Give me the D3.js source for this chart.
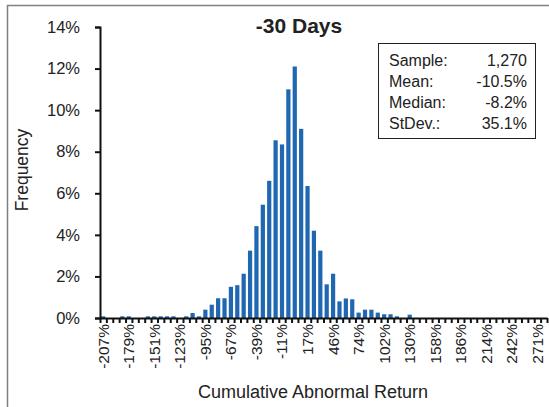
<!DOCTYPE html>
<html><head><meta charset="utf-8">
<script src="https://cdn.jsdelivr.net/npm/d3@7"></script>
<style>
html,body{margin:0;padding:0;background:#fff;}
text{font-family:"Liberation Sans",Arial,sans-serif;fill:#222;}
</style></head>
<body>
<svg id="c" width="549" height="407"></svg>
<script>
// ---- data ----
const title = "-30 Days";
const yTickValues = [0, 2, 4, 6, 8, 10, 12, 14];
const xTickLabels = ["-207%","-179%","-151%","-123%","-95%","-67%","-39%","-11%","17%","46%","74%","102%","130%","158%","186%","214%","242%","271%"];
const labelEvery = 4;
// frequency (%) per bin, 70 bins
const freq = [
  0.08,0,0,0.08,0.08,0,0,0.08,0.08,0.08,
  0.08,0.08,0,0.08,0.24,0.08,0.40,0.64,0.95,0.95,
  1.50,1.58,2.13,3.24,4.42,5.45,6.60,8.55,8.35,11.00,
  12.10,9.10,6.35,4.20,3.24,1.62,2.13,0.80,0.94,0.90,
  0.26,0.40,0.40,0.26,0.18,0.18,0.08,0,0.16,0,
  0,0,0,0,0,0,0,0,0,0,
  0,0,0,0,0,0,0,0,0,0
];
const statNames = ["Sample:","Mean:","Median:","StDev.:"];
const statValues = ["1,270","-10.5%","-8.2%","35.1%"];

// ---- layout ----
const svg = d3.select("#c");
const L = 100, R = 547, T = 27, B = 318;
const idx = d3.range(freq.length);

svg.append("rect").attr("x",7.5).attr("y",5.5).attr("width",600).attr("height",500)
  .attr("fill","none").attr("stroke","#808080").attr("stroke-width",1.5);

const x = d3.scaleBand().domain(idx).range([L, R]).paddingInner(0.34).paddingOuter(0.17);
const xEdge = d3.scaleLinear().domain([0, freq.length]).range([L, R]);
const y = d3.scaleLinear().domain([0, 14]).range([B, T]);

// bars
svg.append("g").selectAll("rect").data(freq).join("rect")
  .attr("x",(d,i)=>x(i)).attr("width",x.bandwidth())
  .attr("y",d=>y(d)).attr("height",d=>B-y(d))
  .attr("fill","#1f67b1");

// y axis
const yAx = svg.append("g").attr("transform",`translate(${L},0)`)
  .call(d3.axisLeft(y).tickValues(yTickValues).tickFormat(d=>d+"%").tickSize(5).tickPadding(15));
yAx.select(".domain").attr("stroke","#111").attr("stroke-width",2);
yAx.selectAll(".tick line").attr("stroke","#111").attr("stroke-width",2);
yAx.selectAll("text").attr("font-size",16.5).attr("fill","#222");

// x axis ticks (between bins)
const xTk = svg.append("g").attr("transform",`translate(0,${B})`)
  .call(d3.axisBottom(xEdge).tickValues(d3.range(freq.length+1)).tickFormat("").tickSize(5).tickSizeOuter(0));
xTk.select(".domain").attr("stroke","#111").attr("stroke-width",2);
xTk.selectAll(".tick line").attr("stroke","#111").attr("stroke-width",2);

// x labels
const labelIdx = xTickLabels.map((_,k)=>k*labelEvery);
const xLab = svg.append("g").attr("transform",`translate(0,${B})`)
  .call(d3.axisBottom(x).tickValues(labelIdx).tickFormat((d,k)=>xTickLabels[labelIdx.indexOf(d)]).tickSize(0).tickPadding(0));
xLab.select(".domain").remove();
xLab.selectAll("text")
  .attr("font-size",15.5).attr("fill","#222")
  .attr("text-anchor","end").attr("dy","0.35em")
  .attr("transform","translate(0,6) rotate(-90)")
  .attr("y",0).attr("x",0);

// titles
svg.append("text").attr("x",299).attr("y",33).attr("text-anchor","middle")
  .attr("font-size",21).attr("font-weight","bold").attr("fill","#222").text(title);
svg.append("text").attr("transform",`translate(28,170) rotate(-90)`)
  .attr("text-anchor","middle").attr("font-size",17.5).text("Frequency");
svg.append("text").attr("x",313).attr("y",398).attr("text-anchor","middle")
  .attr("font-size",18).text("Cumulative Abnormal Return");

// stats box
const bx = 378.5, by = 43.5, bw = 157, bh = 95;
svg.append("rect").attr("x",bx).attr("y",by).attr("width",bw).attr("height",bh)
  .attr("fill","#fff").attr("stroke","#222").attr("stroke-width",1);
const rowY = d3.scaleLinear().domain([0,3]).range([66,129]);
statNames.forEach((s,i)=>{
  svg.append("text").attr("x",389).attr("y",rowY(i)).attr("font-size",16).text(s);
  svg.append("text").attr("x",527).attr("y",rowY(i)).attr("text-anchor","end").attr("font-size",16).text(statValues[i]);
});
</script>
</body></html>
